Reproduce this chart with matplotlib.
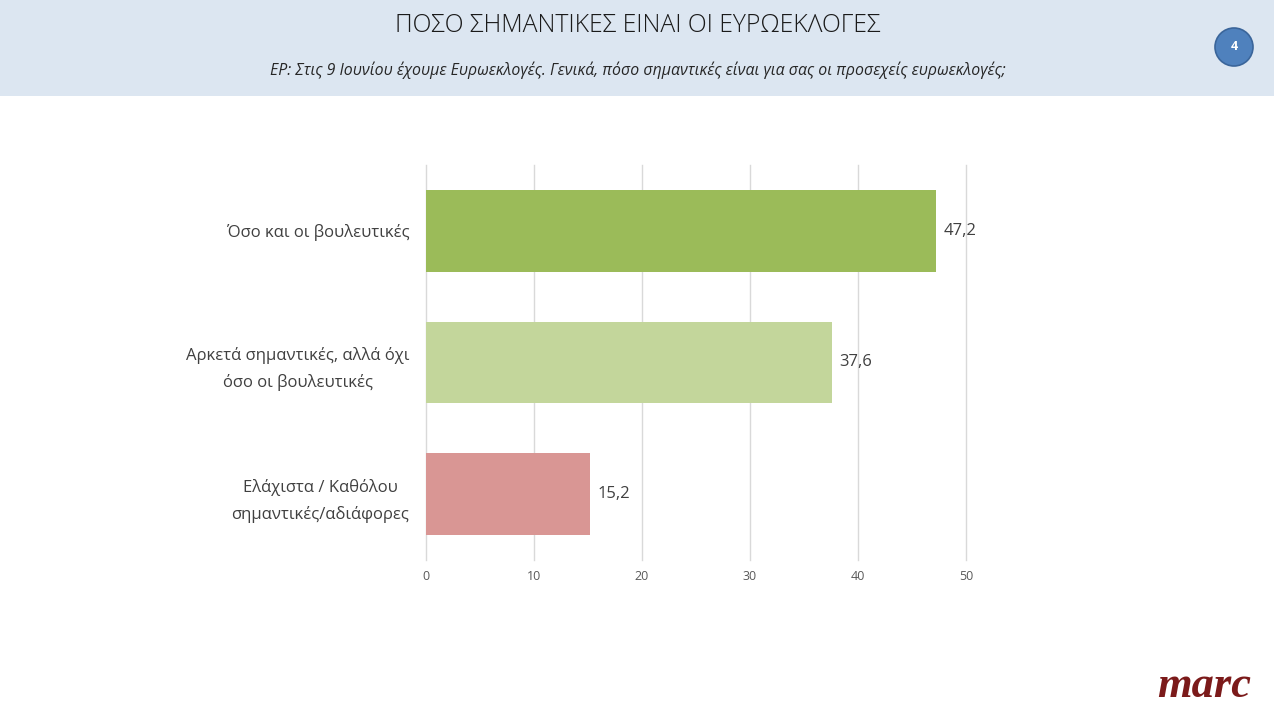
import matplotlib
matplotlib.use("Agg")
import matplotlib.pyplot as plt
from matplotlib.patches import Rectangle, Ellipse

plt.rcParams['font.family'] = ['Open Sans', 'DejaVu Sans']

# δεδομένα
categories = ['Όσο και οι βουλευτικές',
              'Αρκετά σημαντικές, αλλά όχι\nόσο οι βουλευτικές',
              'Ελάχιστα / Καθόλου\nσημαντικές/αδιάφορες']
values = [47.2, 37.6, 15.2]
value_labels = ['47,2', '37,6', '15,2']
bar_colors = ['#9bbb59', '#c3d69b', '#d99694']
xticks = [0, 10, 20, 30, 40, 50]

W, H = 1274, 713
fig = plt.figure(figsize=(W / 100, H / 100), dpi=100)

# κεφαλίδα
fig.add_artist(Rectangle((0, 1 - 96 / H), 1, 96 / H, transform=fig.transFigure,
                         facecolor='#dce6f1', edgecolor='none', zorder=0))
fig.text(638 / W, 1 - 26 / H, 'ΠΟΣΟ ΣΗΜΑΝΤΙΚΕΣ ΕΙΝΑΙ ΟΙ ΕΥΡΩΕΚΛΟΓΕΣ',
         ha='center', va='center', fontsize=17.8, fontweight='light', color='#1a1a1a')
fig.text(638 / W, 1 - 70 / H,
         'ΕΡ: Στις 9 Ιουνίου έχουμε Ευρωεκλογές. Γενικά, πόσο σημαντικές είναι για σας οι προσεχείς ευρωεκλογές;',
         ha='center', va='center', fontsize=11.4, style='italic', color='#262626')
fig.add_artist(Ellipse((1234 / W, 1 - 47 / H), 38 / W, 38 / H, transform=fig.transFigure,
                       facecolor='#4f81bd', edgecolor='#3a659a', linewidth=1.2, zorder=2))
fig.text(1234 / W, 1 - 47 / H, '4', ha='center', va='center', fontsize=9,
         fontweight='bold', color='white', zorder=3)

# γράφημα
ax = fig.add_axes([426 / W, 1 - 560 / H, 540 / W, 395 / H])
y = list(range(len(categories)))
bars = ax.barh(y, values, height=0.62, color=bar_colors, zorder=2)
ax.set_xlim(0, 50)
ax.set_ylim(2.5, -0.5)
ax.set_xticks(xticks)
ax.set_xticklabels([str(t) for t in xticks], fontsize=9, color='#595959')
ax.set_yticks(y)
ax.set_yticklabels(categories, fontsize=12, color='#404040')
for lbl in ax.get_yticklabels():
    lbl.set_multialignment('center')
    lbl.set_linespacing(1.75)
ax.tick_params(axis='y', length=0, pad=12)
ax.tick_params(axis='x', length=0, pad=7)
ax.grid(axis='x', color='#d9d9d9', linewidth=1, zorder=0)
for gl in ax.get_xgridlines():
    gl.set_clip_on(False)
for s in ax.spines.values():
    s.set_visible(False)

for b, t in zip(bars, value_labels):
    ax.text(b.get_width() + 0.7, b.get_y() + b.get_height() / 2, t,
            ha='left', va='center', fontsize=12, color='#404040')

# λογότυπο
fig.text(1251 / W, 1 - 686 / H, 'marc', ha='right', va='center', fontsize=32,
         fontweight='bold', style='italic', color='#7b1a1a',
         family=['Liberation Serif', 'DejaVu Serif'])

fig.savefig('out.png', dpi=100)
